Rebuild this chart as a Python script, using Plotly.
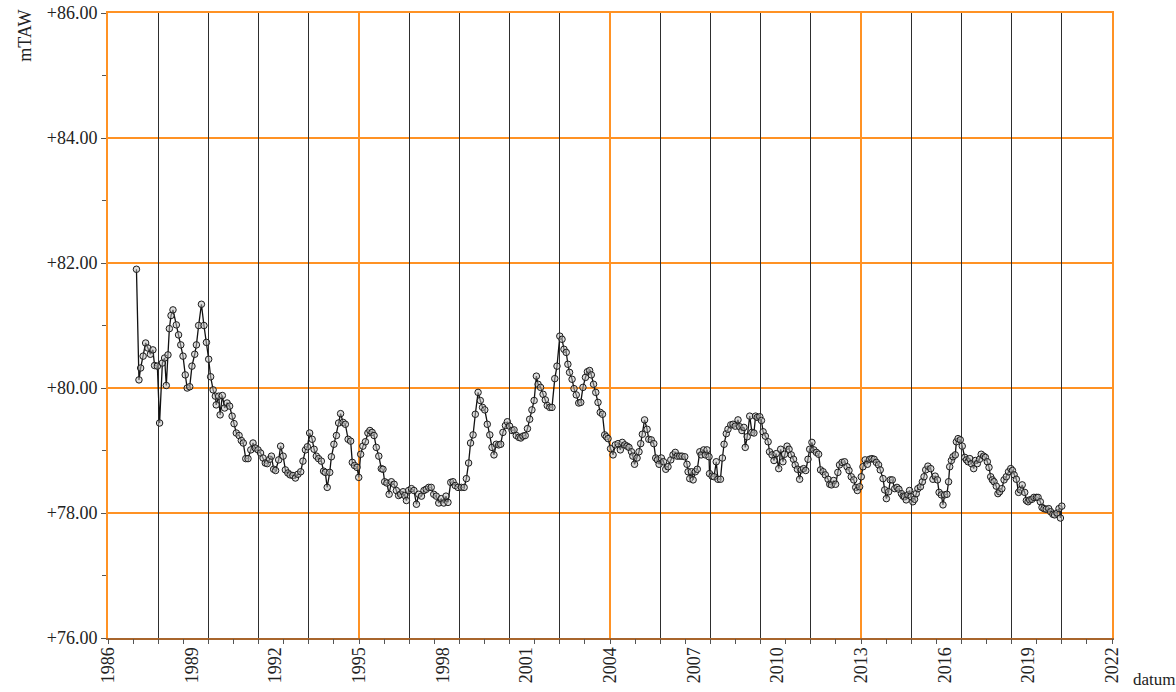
import plotly.graph_objects as go

# ---- data: groundwater level (mTAW) against decimal year ----
years_1987_1992 = [1987.02, 1987.11, 1987.17, 1987.26, 1987.35, 1987.43, 1987.52, 1987.61, 1987.67, 1987.77,
                   1987.85, 1987.95, 1988.03, 1988.09, 1988.15, 1988.20, 1988.26, 1988.33, 1988.45, 1988.53,
                   1988.61, 1988.69, 1988.77, 1988.84, 1988.93, 1989.01, 1989.11, 1989.17, 1989.25, 1989.35,
                   1989.44, 1989.53, 1989.61, 1989.68, 1989.77, 1989.85, 1989.88, 1989.97, 1990.02, 1990.10,
                   1990.18, 1990.27, 1990.36, 1990.45, 1990.52, 1990.60, 1990.70, 1990.78, 1990.85, 1990.94,
                   1991.02, 1991.12, 1991.20, 1991.28, 1991.38, 1991.47, 1991.56, 1991.64, 1991.71, 1991.80,
                   1991.86, 1991.94, 1992.01, 1992.12, 1992.19, 1992.28, 1992.36, 1992.45, 1992.53]
level_1987_1992 = [81.90, 80.13, 80.32, 80.51, 80.72, 80.64, 80.54, 80.61, 80.36, 80.35,
                   79.44, 80.40, 80.48, 80.04, 80.53, 80.95, 81.16, 81.25, 81.01, 80.85,
                   80.69, 80.51, 80.21, 80.00, 80.02, 80.35, 80.54, 80.69, 81.00, 81.34,
                   81.00, 80.73, 80.46, 80.18, 79.97, 79.87, 79.73, 79.87, 79.57, 79.88,
                   79.68, 79.76, 79.71, 79.55, 79.43, 79.28, 79.24, 79.16, 79.12, 78.87,
                   78.87, 79.01, 79.12, 79.04, 79.01, 78.96, 78.88, 78.80, 78.79, 78.86,
                   78.91, 78.70, 78.68, 78.85, 79.07, 78.91, 78.69, 78.64, 78.61]

years_1992_1998 = [1992.63, 1992.72, 1992.81, 1992.91, 1992.99, 1993.08, 1993.15, 1993.23, 1993.32, 1993.39,
                   1993.47, 1993.55, 1993.65, 1993.73, 1993.79, 1993.86, 1993.95, 1994.01, 1994.10, 1994.19,
                   1994.27, 1994.34, 1994.43, 1994.51, 1994.61, 1994.70, 1994.76, 1994.84, 1994.93, 1994.99,
                   1995.06, 1995.14, 1995.23, 1995.32, 1995.39, 1995.47, 1995.54, 1995.62, 1995.71, 1995.80,
                   1995.86, 1995.92, 1996.00, 1996.08, 1996.16, 1996.26, 1996.34, 1996.42, 1996.49, 1996.58,
                   1996.64, 1996.70, 1996.78, 1996.88, 1996.97, 1997.06, 1997.14, 1997.24, 1997.33, 1997.41,
                   1997.50, 1997.59, 1997.68, 1997.77, 1997.86, 1997.95, 1998.04, 1998.12, 1998.19]
level_1992_1998 = [78.60, 78.56, 78.62, 78.66, 78.83, 79.01, 79.06, 79.28, 79.18, 79.02,
                   78.91, 78.87, 78.83, 78.67, 78.65, 78.41, 78.65, 78.90, 79.10, 79.24,
                   79.44, 79.59, 79.45, 79.42, 79.18, 79.15, 78.81, 78.76, 78.73, 78.57,
                   78.94, 79.07, 79.14, 79.28, 79.32, 79.29, 79.24, 79.05, 78.91, 78.71,
                   78.70, 78.50, 78.48, 78.30, 78.50, 78.46, 78.36, 78.28, 78.30, 78.34,
                   78.28, 78.20, 78.36, 78.39, 78.36, 78.14, 78.30, 78.27, 78.36, 78.38,
                   78.41, 78.41, 78.30, 78.27, 78.16, 78.23, 78.16, 78.27, 78.17]

years_1998_2003 = [1998.29, 1998.37, 1998.45, 1998.55, 1998.67, 1998.77, 1998.85, 1998.93, 1999.00, 1999.09,
                   1999.17, 1999.27, 1999.35, 1999.43, 1999.51, 1999.60, 1999.69, 1999.77, 1999.84, 1999.92,
                   2000.01, 2000.08, 2000.16, 2000.25, 2000.32, 2000.40, 2000.49, 2000.56, 2000.64, 2000.73,
                   2000.80, 2000.88, 2000.96, 2001.04, 2001.12, 2001.20, 2001.28, 2001.36, 2001.42, 2001.51,
                   2001.60, 2001.68, 2001.75, 2001.84, 2001.92, 2002.02, 2002.10, 2002.20, 2002.28, 2002.35,
                   2002.43, 2002.49, 2002.55, 2002.64, 2002.71, 2002.79, 2002.88, 2002.95, 2003.03, 2003.12,
                   2003.19, 2003.27, 2003.33, 2003.41, 2003.49, 2003.57, 2003.65, 2003.73, 2003.81, 2003.87]
level_1998_2003 = [78.49, 78.50, 78.44, 78.41, 78.41, 78.41, 78.55, 78.80, 79.12, 79.25,
                   79.58, 79.93, 79.80, 79.69, 79.65, 79.42, 79.25, 79.05, 78.93, 79.10,
                   79.09, 79.10, 79.29, 79.40, 79.46, 79.39, 79.32, 79.33, 79.24, 79.21,
                   79.20, 79.23, 79.24, 79.35, 79.50, 79.65, 79.80, 80.19, 80.06, 80.01,
                   79.90, 79.81, 79.72, 79.69, 79.69, 80.15, 80.35, 80.83, 80.78, 80.62,
                   80.57, 80.38, 80.25, 80.14, 79.99, 79.89, 79.76, 79.77, 80.01, 80.17,
                   80.26, 80.28, 80.21, 80.06, 79.93, 79.77, 79.61, 79.58, 79.25, 79.22]

years_2003_2009 = [2003.93, 2004.02, 2004.11, 2004.19, 2004.29, 2004.37, 2004.44, 2004.53, 2004.61, 2004.68,
                   2004.77, 2004.82, 2004.88, 2004.97, 2005.04, 2005.10, 2005.16, 2005.24, 2005.33, 2005.39,
                   2005.48, 2005.57, 2005.64, 2005.70, 2005.76, 2005.84, 2005.92, 2006.00, 2006.08, 2006.18,
                   2006.26, 2006.34, 2006.41, 2006.50, 2006.58, 2006.68, 2006.76, 2006.80, 2006.86, 2006.92,
                   2006.98, 2007.06, 2007.13, 2007.22, 2007.27, 2007.36, 2007.42, 2007.48, 2007.55, 2007.57,
                   2007.66, 2007.73, 2007.81, 2007.87, 2007.96, 2008.03, 2008.09, 2008.17, 2008.23, 2008.33,
                   2008.41, 2008.49, 2008.59, 2008.65, 2008.73, 2008.80, 2008.85, 2008.92, 2009.01, 2009.09,
                   2009.16, 2009.22, 2009.28, 2009.37, 2009.43, 2009.49, 2009.57, 2009.67]
level_2003_2009 = [79.19, 79.03, 78.93, 79.09, 79.11, 79.01, 79.13, 79.09, 79.07, 79.05,
                   78.98, 78.91, 78.78, 78.88, 78.98, 79.11, 79.26, 79.49, 79.34, 79.18,
                   79.17, 79.11, 78.88, 78.85, 78.78, 78.88, 78.82, 78.70, 78.74, 78.85,
                   78.93, 78.97, 78.91, 78.91, 78.91, 78.90, 78.78, 78.66, 78.55, 78.66,
                   78.53, 78.66, 78.70, 78.98, 78.93, 79.01, 78.93, 79.01, 78.90, 78.63,
                   78.59, 78.58, 78.82, 78.54, 78.54, 78.88, 79.10, 79.27, 79.34, 79.41,
                   79.42, 79.39, 79.49, 79.38, 79.32, 79.37, 79.05, 79.22, 79.55, 79.29,
                   79.28, 79.55, 79.53, 79.54, 79.48, 79.30, 79.23, 79.14]

years_2009_2015 = [2009.72, 2009.81, 2009.88, 2009.96, 2010.05, 2010.12, 2010.20, 2010.26, 2010.35, 2010.42,
                   2010.50, 2010.58, 2010.64, 2010.72, 2010.80, 2010.86, 2010.94, 2011.02, 2011.10, 2011.16,
                   2011.24, 2011.31, 2011.40, 2011.48, 2011.55, 2011.64, 2011.72, 2011.82, 2011.88, 2011.94,
                   2012.02, 2012.09, 2012.17, 2012.23, 2012.32, 2012.41, 2012.50, 2012.57, 2012.65, 2012.74,
                   2012.81, 2012.87, 2012.95, 2013.01, 2013.07, 2013.15, 2013.23, 2013.31, 2013.39, 2013.47,
                   2013.55, 2013.63, 2013.69, 2013.79, 2013.85, 2013.91, 2013.99, 2014.05, 2014.12, 2014.21,
                   2014.29, 2014.36, 2014.45, 2014.51, 2014.56, 2014.62, 2014.68, 2014.74, 2014.80, 2014.86,
                   2014.92, 2014.98, 2015.04, 2015.13, 2015.20, 2015.26, 2015.32, 2015.40]
level_2009_2015 = [78.98, 78.93, 78.84, 78.95, 78.71, 79.02, 78.82, 78.94, 79.07, 79.02,
                   78.93, 78.86, 78.77, 78.70, 78.54, 78.69, 78.71, 78.68, 78.86, 79.02,
                   79.13, 79.01, 78.97, 78.94, 78.69, 78.66, 78.61, 78.54, 78.46, 78.45,
                   78.52, 78.46, 78.65, 78.77, 78.81, 78.82, 78.74, 78.68, 78.58, 78.53,
                   78.41, 78.36, 78.42, 78.58, 78.74, 78.85, 78.78, 78.86, 78.87, 78.86,
                   78.81, 78.77, 78.69, 78.55, 78.37, 78.23, 78.34, 78.53, 78.53, 78.39,
                   78.41, 78.38, 78.31, 78.27, 78.26, 78.21, 78.29, 78.36, 78.26, 78.18,
                   78.22, 78.31, 78.39, 78.42, 78.50, 78.58, 78.69, 78.75]

years_2015_2020 = [2015.50, 2015.58, 2015.66, 2015.74, 2015.80, 2015.88, 2015.94, 2016.00, 2016.08, 2016.14,
                   2016.18, 2016.24, 2016.30, 2016.38, 2016.42, 2016.48, 2016.56, 2016.63, 2016.72, 2016.78,
                   2016.84, 2016.90, 2016.96, 2017.04, 2017.10, 2017.17, 2017.25, 2017.31, 2017.40, 2017.46,
                   2017.53, 2017.59, 2017.65, 2017.71, 2017.77, 2017.85, 2017.91, 2017.97, 2018.05, 2018.13,
                   2018.21, 2018.29, 2018.37, 2018.43, 2018.49, 2018.57, 2018.65, 2018.71, 2018.78, 2018.87,
                   2018.93, 2018.99, 2019.05, 2019.13, 2019.20, 2019.29, 2019.35, 2019.43, 2019.49, 2019.56,
                   2019.64, 2019.73, 2019.80, 2019.88, 2019.94, 2020.03, 2020.10, 2020.15, 2020.20]
level_2015_2020 = [78.71, 78.54, 78.59, 78.53, 78.33, 78.29, 78.13, 78.29, 78.30, 78.50,
                   78.74, 78.84, 78.90, 78.93, 79.14, 79.19, 79.17, 79.07, 78.89, 78.85,
                   78.82, 78.87, 78.79, 78.71, 78.84, 78.79, 78.86, 78.94, 78.91, 78.89,
                   78.82, 78.73, 78.58, 78.53, 78.50, 78.43, 78.31, 78.34, 78.39, 78.53,
                   78.58, 78.66, 78.71, 78.68, 78.61, 78.54, 78.33, 78.37, 78.45, 78.33,
                   78.20, 78.18, 78.21, 78.22, 78.25, 78.25, 78.25, 78.18, 78.09, 78.07,
                   78.06, 78.07, 78.02, 77.98, 77.97, 78.00, 78.07, 77.92, 78.11]

# ---- axis definitions ----
x_start, x_end = 1986, 2022
y_min, y_max = 76, 86
label_years = list(range(1986, 2023, 3))
y_label_vals = list(range(76, 87, 2))
y_label_text = [f"+{v:.2f}" for v in y_label_vals]
minor_tick_step = 0.9
line_step = 1.8
major_line_step = 9

years = (years_1987_1992 + years_1992_1998 + years_1998_2003 +
         years_2003_2009 + years_2009_2015 + years_2015_2020)
levels = (level_1987_1992 + level_1992_1998 + level_1998_2003 +
          level_2003_2009 + level_2009_2015 + level_2015_2020)

n_minor = round((x_end - x_start) / minor_tick_step)
minor_tick_vals = [round(x_start + i * minor_tick_step, 3) for i in range(n_minor + 1)]
n_lines = round((x_end - x_start) / line_step)
ratio = round(major_line_step / line_step)
black_line_vals = [round(x_start + i * line_step, 3) for i in range(n_lines + 1) if i % ratio != 0]
orange_line_vals = [x_start + i * major_line_step for i in range(round((x_end - x_start) / major_line_step) + 1)]

ORANGE = "#FF9224"
FONT = dict(family="Liberation Serif, Times New Roman, serif", size=18, color="#222222")

fig = go.Figure()

# empty helper traces so overlay axes exist
for ax in ["x2", "x3", "x4"]:
    fig.add_trace(go.Scatter(x=[], y=[], xaxis=ax, yaxis="y", showlegend=False, hoverinfo="skip"))

fig.add_trace(go.Scatter(
    x=years, y=levels, mode="lines+markers",
    line=dict(color="#111111", width=1.3),
    marker=dict(symbol="circle", size=6.5, color="rgba(190,190,190,0.5)",
                line=dict(color="#1a1a1a", width=1)),
    showlegend=False,
))

common_x = dict(range=[x_start, x_end], zeroline=False, fixedrange=True, automargin=False)

fig.update_layout(
    width=1176, height=692,
    margin=dict(l=108, r=64, t=13, b=54, autoexpand=False),
    paper_bgcolor="white", plot_bgcolor="white",
    font=FONT,
    xaxis=dict(**common_x, tickmode="array", tickvals=label_years,
               ticktext=[str(v) for v in label_years], tickangle=-90,
               ticks="", showgrid=False, showline=True, linecolor="#A8652C", linewidth=2,
               tickfont=FONT, ticklabeloverflow="allow"),
    xaxis2=dict(**common_x, overlaying="x", anchor="y", side="bottom",
                tickmode="array", tickvals=minor_tick_vals, ticks="outside", ticklen=5,
                tickcolor="#555555", tickwidth=1, showticklabels=False, showgrid=False, showline=False),
    xaxis3=dict(**common_x, overlaying="x", anchor="y", side="bottom",
                tickmode="array", tickvals=black_line_vals, ticks="", showticklabels=False,
                showgrid=True, gridcolor="#2e2e2e", gridwidth=1.3, showline=False),
    xaxis4=dict(**common_x, overlaying="x", anchor="y", side="top",
                tickmode="array", tickvals=orange_line_vals, ticks="", showticklabels=False,
                showgrid=True, gridcolor=ORANGE, gridwidth=2,
                showline=True, linecolor=ORANGE, linewidth=2),
    yaxis=dict(range=[y_min, y_max], tickmode="array", tickvals=y_label_vals, ticktext=y_label_text,
               ticks="outside", ticklen=5, tickcolor="#555555", showgrid=True, gridcolor=ORANGE,
               gridwidth=2, showline=True, linecolor=ORANGE, linewidth=2, mirror=True,
               zeroline=False, fixedrange=True, automargin=False, tickfont=FONT,
               ticklabeloverflow="allow",
               minor=dict(dtick=1, tick0=76, ticks="outside", ticklen=4, tickcolor="#555555",
                          showgrid=False)),
)

fig.add_annotation(text="mTAW", xref="paper", yref="paper", x=-0.083, y=1.008,
                   xanchor="center", yanchor="top", textangle=-90, showarrow=False, font=FONT)
fig.add_annotation(text="datum", xref="paper", yref="paper", x=1.019, y=-0.067,
                   xanchor="left", yanchor="middle", showarrow=False,
                   font=dict(family=FONT["family"], size=17, color=FONT["color"]))

# remove the default 8px page margin so the figure fills the window exactly
fig.write_html("out.html", config={"displayModeBar": False},
               post_script="document.body.style.margin='0';")
